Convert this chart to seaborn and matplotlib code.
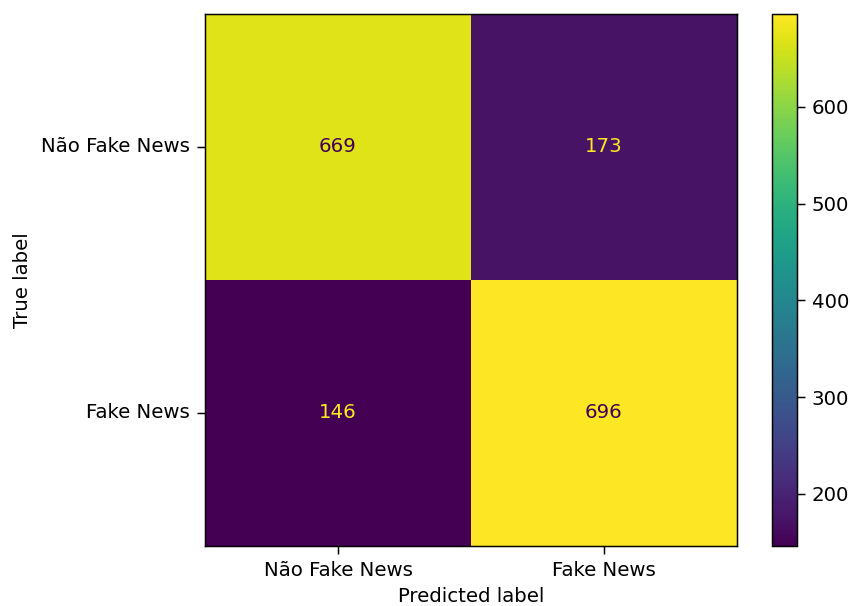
import numpy as np
import pandas as pd
import matplotlib
matplotlib.use("Agg")
import matplotlib.pyplot as plt
import seaborn as sns

labels = ["Não Fake News", "Fake News"]
row_true = [[669, 173], [146, 696]]

cm = pd.DataFrame(np.array(row_true), index=labels, columns=labels)

plt.rcParams['font.family'] = ['DejaVu Sans']
plt.rcParams['font.size'] = 10.7

dpi = 133.33
fig = plt.figure(figsize=(850 / dpi, 606 / dpi), dpi=dpi)
ax = fig.add_axes([205 / 850, 1 - 546 / 606, 532 / 850, 532 / 606])
cax = fig.add_axes([772 / 850, 1 - 546 / 606, 25 / 850, 532 / 606])

cmap = plt.get_cmap("viridis")
sns.heatmap(cm, ax=ax, cbar_ax=cax, cmap=cmap, annot=True, fmt="d",
            annot_kws={"fontsize": 10.7}, square=False)

vmin, vmax = cm.values.min(), cm.values.max()
thresh = (vmin + vmax) / 2
vals = cm.values.flatten()
for t, v in zip(ax.texts, vals):
    t.set_color(cmap(0.0) if v > thresh else cmap(1.0))

for s in ax.spines.values():
    s.set_visible(True)
    s.set_linewidth(0.8)
    s.set_color("black")
ax.tick_params(axis="both", length=4.5, width=0.8, color="black")
ax.set_yticklabels(labels, rotation=0)
ax.set_xticklabels(labels, rotation=0)
ax.set_xlabel("Predicted label")
ax.set_ylabel("True label", labelpad=5)

cb = ax.collections[0].colorbar
cb.outline.set_linewidth(0.8)
cb.outline.set_edgecolor("black")
cb.set_ticks([200, 300, 400, 500, 600])
cax.tick_params(length=4.5, width=0.8)

fig.savefig("out.png", dpi=dpi)
